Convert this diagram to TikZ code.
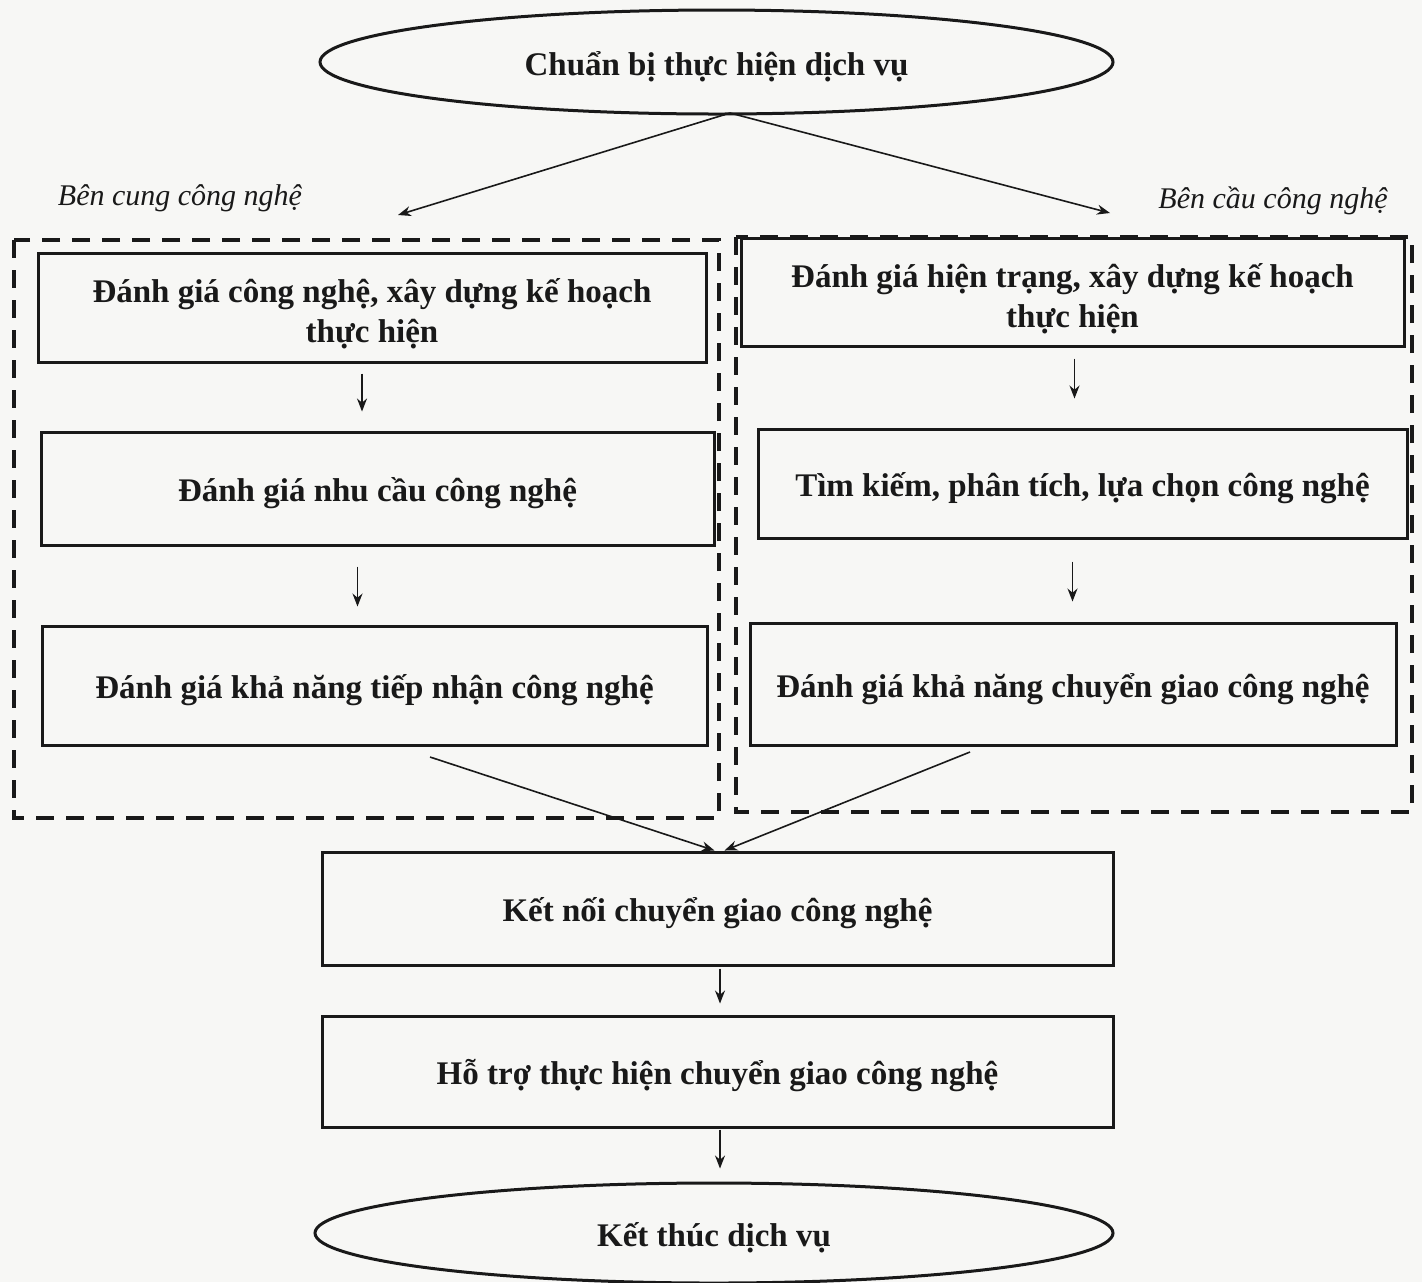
\documentclass[tikz,border=0pt]{standalone}
\usepackage{fontspec}
\setmainfont{Liberation Serif}
\usetikzlibrary{arrows.meta,shapes.geometric,calc}
\definecolor{ink}{RGB}{25,25,25}
\definecolor{paper}{RGB}{247,247,245}
\tikzset{
  box/.style={draw=ink, line width=1.5pt, rectangle, inner sep=0pt, align=center,
    font=\fontsize{16.5}{20}\selectfont\bfseries, text=ink, text height=16pt, text depth=3pt},
  twoline/.style={text height=38pt, text depth=3pt},
  oval/.style={draw=ink, line width=1.5pt, ellipse, inner sep=0pt, align=center,
    font=\fontsize{16.5}{20}\selectfont\bfseries, text=ink, text height=16pt, text depth=3pt},
  side/.style={font=\fontsize{15}{18}\selectfont\itshape, text=ink, inner sep=0pt},
  frame/.style={draw=ink, line width=2pt, dash pattern=on 9pt off 6pt},
  arr/.style={draw=ink, line width=0.8pt, -{Stealth[length=6.5pt,width=5pt]}}
}
\begin{document}
\begin{tikzpicture}[x=0.5pt,y=-0.5pt]
\fill[paper] (0,0) rectangle (1422,1282);
\useasboundingbox (0,0) rectangle (1422,1282);

% dashed frames
\draw[frame] (14,240) rectangle (719,818);
\draw[frame] (736,237) rectangle (1412,812);

% top and bottom ovals
\node[oval, minimum width=396.5pt, minimum height=52pt] (start) at (716.5,62) {Chuẩn bị thực hiện dịch vụ};
\node[oval, minimum width=399pt, minimum height=50pt] (end) at (714,1233) {Kết thúc dịch vụ};

% side labels
\node[side] (lsup) at (180,198) {Bên cung công nghệ};
\node[side] (lreq) at (1273,201) {Bên cầu công nghệ};

% left column
\node[box, twoline, minimum width=334pt, minimum height=54.5pt] (L1) at (372,307.5) {Đánh giá công nghệ, xây dựng kế hoạch\\thực hiện};
\node[box, minimum width=336.5pt, minimum height=56.5pt] (L2) at (377.5,488.5) {Đánh giá nhu cầu công nghệ};
\node[box, minimum width=332.5pt, minimum height=59.5pt] (L3) at (374.5,685.5) {Đánh giá khả năng tiếp nhận công nghệ};

% right column
\node[box, twoline, minimum width=331.5pt, minimum height=54pt] (R1) at (1072.5,292) {Đánh giá hiện trạng, xây dựng kế hoạch\\thực hiện};
\node[box, minimum width=324.5pt, minimum height=54.5pt] (R2) at (1082.5,483.5) {Tìm kiếm, phân tích, lựa chọn công nghệ};
\node[box, minimum width=323pt, minimum height=61pt] (R3) at (1073,684) {Đánh giá khả năng chuyển giao công nghệ};

% centre column
\node[box, minimum width=395.5pt, minimum height=56.5pt] (C1) at (717.5,908.5) {Kết nối chuyển giao công nghệ};
\node[box, minimum width=395.5pt, minimum height=55.5pt] (C2) at (717.5,1071.5) {Hỗ trợ thực hiện chuyển giao công nghệ};

% connector end points
\coordinate (sb) at (730,113);
\coordinate (tl) at (398,215);
\coordinate (tr) at (1110,213);
\coordinate (dl) at (430,757);
\coordinate (dr) at (970,752);
\coordinate (a1) at ($(L1.south)+(-10,10)$);
\coordinate (a2) at ($(L2.south)+(-20,20)$);
\coordinate (a3) at ($(R1.south)+(2,11)$);
\coordinate (a4) at ($(R2.south)+(-10,22)$);
\coordinate (a5) at ($(C1.south)+(2.5,2)$);
\coordinate (a6) at ($(C2.south)+(2.5,1)$);

% connectors
\draw[arr] (sb) -- (tl);
\draw[arr] (sb) -- (tr);
\draw[arr] (a1) -- ([yshift=9.5pt]a1 |- L2.north);
\draw[arr] (a2) -- ([yshift=9pt]a2 |- L3.north);
\draw[arr] (a3) -- ([yshift=14.5pt]a3 |- R2.north);
\draw[arr] (a4) -- ([yshift=10pt]a4 |- R3.north);
\draw[arr] (dl) -- ($(C1.north)+(-3,0)$);
\draw[arr] (dr) -- ($(C1.north)+(7,0)$);
\draw[arr] (a5) -- ([yshift=5.5pt]a5 |- C2.north);
\draw[arr] (a6) -- ([yshift=6.5pt]a6 |- end.north);
\end{tikzpicture}
\end{document}
